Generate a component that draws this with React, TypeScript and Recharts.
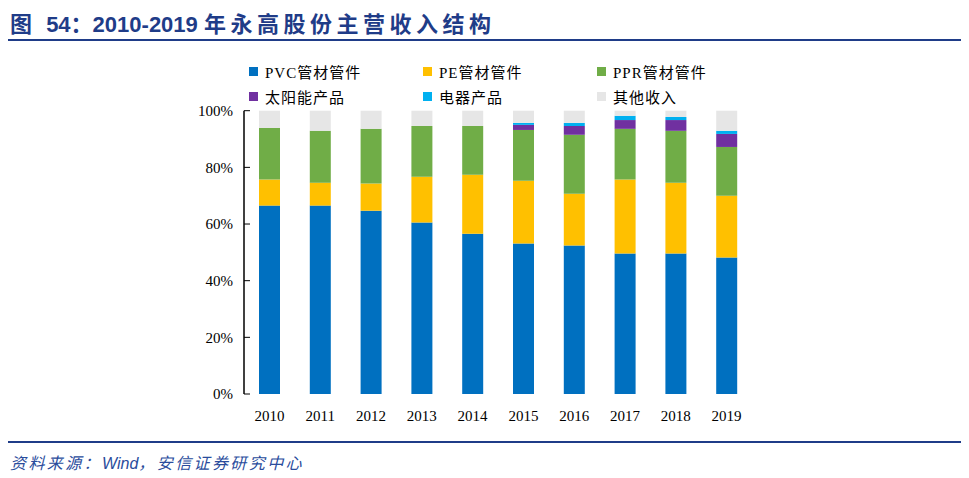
import { BarChart, Bar, XAxis, YAxis, Legend } from 'recharts'

const years = ['2010', '2011', '2012', '2013', '2014', '2015', '2016', '2017', '2018', '2019']
const pvc = [66.5, 66.5, 64.7, 60.5, 56.6, 53.1, 52.4, 49.6, 49.6, 48.2]
const pe = [9.2, 8.1, 9.6, 16.2, 20.8, 22.2, 18.3, 26.1, 25.0, 21.8]
const ppr = [18.2, 18.3, 19.3, 17.9, 17.2, 17.9, 20.8, 17.9, 18.3, 17.2]
const solar = [0, 0, 0, 0, 0, 1.8, 3.1, 3.1, 3.8, 4.6]
const appliance = [0, 0, 0, 0, 0, 0.7, 1.1, 1.5, 1.1, 1.1]
const other = [6.1, 7.1, 6.4, 5.4, 5.4, 4.3, 4.3, 1.8, 2.2, 7.1]
const yTicks = [0, 20, 40, 60, 80, 100]
const boundaryTicks = [0, 1, 2, 3, 4, 5, 6, 7, 8, 9, 10]

const SERIES = [
  { key: 'pvc', name: 'PVC管材管件', color: '#0070C0' },
  { key: 'pe', name: 'PE管材管件', color: '#FFC000' },
  { key: 'ppr', name: 'PPR管材管件', color: '#70AD47' },
  { key: 'solar', name: '太阳能产品', color: '#7030A0' },
  { key: 'appliance', name: '电器产品', color: '#00B0F0' },
  { key: 'other', name: '其他收入', color: '#E6E6E6' }
]

const data = years.map((year, i) => ({
  year,
  pvc: pvc[i],
  pe: pe[i],
  ppr: ppr[i],
  solar: solar[i],
  appliance: appliance[i],
  other: other[i]
}))

const SERIF = '"Liberation Serif", "Times New Roman", "Noto Sans CJK SC", serif'
const SANS = '"Liberation Sans", Arial, "Noto Sans CJK SC", sans-serif'
const NAVY = '#1F3C88'

const renderLegend = () => (
  <div style={{ position: 'relative', width: 969, height: 110 }}>
    {SERIES.map((s, i) => (
      <div
        key={s.key}
        style={{
          position: 'absolute',
          left: 249 + (i % 3) * 174,
          top: 61 + Math.floor(i / 3) * 25,
          display: 'flex',
          alignItems: 'center',
          height: 20,
          fontFamily: SERIF,
          fontSize: 15,
          letterSpacing: 1,
          color: '#000'
        }}
      >
        <span style={{ width: 9, height: 9, background: s.color, display: 'inline-block', marginRight: 7 }} />
        <span>{s.name}</span>
      </div>
    ))}
  </div>
)

export default function App() {
  return (
    <div style={{ position: 'absolute', left: 0, top: 0, width: 969, height: 478, background: '#fff' }}>
      <div
        style={{
          position: 'absolute',
          left: 10,
          top: 6,
          fontFamily: SANS,
          fontWeight: 'bold',
          fontSize: 22,
          color: NAVY,
          whiteSpace: 'nowrap'
        }}
      >
        <span style={{ letterSpacing: 4 }}>图 </span>
        <span>54：</span>
        <span>2010-2019 </span>
        <span style={{ letterSpacing: 4.5 }}>年永高股份主营收入结构</span>
      </div>
      <div style={{ position: 'absolute', left: 8, top: 39, width: 953, height: 2, background: NAVY }} />

      <BarChart
        width={969}
        height={478}
        data={data}
        margin={{ top: 110.7, right: 217, bottom: 54, left: 184 }}
        style={{ position: 'absolute', left: 0, top: 0 }}
      >
        <XAxis
          xAxisId="grid"
          type="number"
          domain={[0, 10]}
          ticks={boundaryTicks}
          height={0}
          tick={false}
          tickSize={-6}
          axisLine={{ stroke: '#000', strokeWidth: 1.5 }}
          tickLine={{ stroke: '#000' }}
          allowDataOverflow
        />
        <XAxis
          xAxisId="cat"
          dataKey="year"
          height={30}
          axisLine={false}
          tickLine={false}
          tickSize={0}
          tickMargin={16}
          interval={0}
          tick={{ fontFamily: SERIF, fontSize: 15, fill: '#000' }}
        />
        <YAxis
          width={60}
          domain={[0, 100]}
          ticks={yTicks}
          tickFormatter={(v: number) => `${v}%`}
          tickSize={-6}
          tickMargin={17}
          axisLine={{ stroke: '#000', strokeWidth: 1.5 }}
          tickLine={{ stroke: '#000' }}
          tick={{ fontFamily: SERIF, fontSize: 15, fill: '#000' }}
        />
        <Legend
          layout="horizontal"
          verticalAlign="middle"
          align="center"
          content={renderLegend}
          wrapperStyle={{ left: 0, top: 0, width: 969 }}
        />
        {SERIES.map((s) => (
          <Bar
            key={s.key}
            xAxisId="cat"
            dataKey={s.key}
            name={s.name}
            stackId="a"
            fill={s.color}
            barSize={21}
            isAnimationActive={false}
          />
        ))}
      </BarChart>

      <div style={{ position: 'absolute', left: 8, top: 441, width: 953, height: 2, background: NAVY }} />
      <div
        style={{
          position: 'absolute',
          left: 10,
          top: 450,
          fontFamily: SANS,
          fontStyle: 'italic',
          fontSize: 16,
          letterSpacing: 2.4,
          color: '#2A4C9C',
          whiteSpace: 'nowrap'
        }}
      >
        资料来源：<span style={{ letterSpacing: 0 }}>Wind</span>，安信证券研究中心
      </div>
    </div>
  )
}
